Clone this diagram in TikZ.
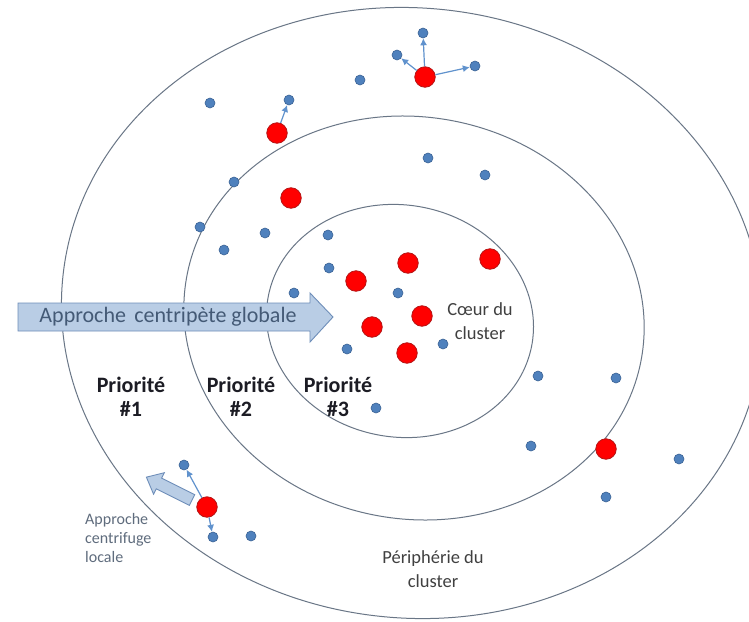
\documentclass[tikz,border=0pt]{standalone}
\usepackage{fontspec}
\setmainfont{Carlito}
\usepackage{tikz}
\usetikzlibrary{arrows.meta}
\definecolor{ringgray}{RGB}{105,118,134}
\definecolor{dotblue}{RGB}{79,129,189}
\definecolor{dotblueline}{RGB}{58,98,148}
\definecolor{seedred}{RGB}{255,0,0}
\definecolor{seedline}{RGB}{180,20,20}
\definecolor{arrowfill}{RGB}{185,205,229}
\definecolor{arrowline}{RGB}{110,142,185}
\definecolor{arrowtext}{RGB}{68,90,118}
\definecolor{labelgray}{RGB}{64,64,64}
\definecolor{prioblack}{RGB}{28,28,36}
\definecolor{smallgray}{RGB}{95,108,125}
\definecolor{spreadblue}{RGB}{96,146,205}
\tikzset{
  ringline/.style={draw=ringgray,line width=1pt},
  reddot/.style={circle,fill=seedred,draw=seedline,line width=0.8pt,minimum size=20.5pt,inner sep=0pt},
  bluedot/.style={circle,fill=dotblue,draw=dotblueline,line width=0.6pt,minimum size=10pt,inner sep=0pt},
  spread/.style={draw=spreadblue,line width=1.2pt,-{Latex[length=7pt,width=7pt]}},
  blockarrow/.style={fill=arrowfill,draw=arrowline,line width=0.9pt},
  prio/.style={align=center,font=\bfseries\fontsize{22}{24}\selectfont,text=prioblack},
  zone/.style={align=center,font=\fontsize{18.5}{24}\selectfont,text=labelgray}
}
\begin{document}
\begin{tikzpicture}[x=1pt,y=-1pt]
    \useasboundingbox[fill=white] (0,0) rectangle (749,621);
    \draw[ringline,rotate around={-6:(412,313)}] (412,313) ellipse [x radius=351,y radius=305];
    \draw[ringline,rotate around={-10:(414,318)}] (414,318) ellipse [x radius=231,y radius=201];
    \draw[ringline,rotate around={-10:(400,321)}] (400,321) ellipse [x radius=134,y radius=116];
    \draw[blockarrow] (18,303)--(310,303)--(310,293)--(333,317)--(310,342)--(310,331)--(18,331)--cycle;
    \node[font=\fontsize{22}{24}\selectfont,text=arrowtext] (globale) at (168,317) {Approche\hspace{.15em} centripète globale};
    \begin{scope}[shift={(192,500)},rotate=153.4]
        \draw[blockarrow] (0,-6)--(37,-6)--(37,-12)--(51,0)--(37,12)--(37,6)--(0,6)--cycle;
    \end{scope}
    \node[reddot] (r1) at (425,77) {};
    \node[reddot] (r2) at (277,133) {};
    \node[reddot] (r3) at (291,198) {};
    \node[reddot] (r4) at (356,281) {};
    \node[reddot] (r5) at (408,263) {};
    \node[reddot] (r6) at (490,259) {};
    \node[reddot] (r7) at (372,327) {};
    \node[reddot] (r8) at (422,316) {};
    \node[reddot] (r9) at (407,353) {};
    \node[reddot] (r10) at (606,449) {};
    \node[reddot] (r11) at (207,507) {};
    \node[bluedot] (b1) at (423,33) {};
    \node[bluedot] (b2) at (397,55) {};
    \node[bluedot] (b3) at (475,66) {};
    \node[bluedot] (b4) at (360,80) {};
    \node[bluedot] (b5) at (210,103) {};
    \node[bluedot] (b6) at (289,100) {};
    \node[bluedot] (b7) at (428,158) {};
    \node[bluedot] (b8) at (485,175) {};
    \node[bluedot] (b9) at (234,182) {};
    \node[bluedot] (b10) at (200,227) {};
    \node[bluedot] (b11) at (224,250) {};
    \node[bluedot] (b12) at (265,233) {};
    \node[bluedot] (b13) at (328,235) {};
    \node[bluedot] (b14) at (329,268) {};
    \node[bluedot] (b15) at (294,293) {};
    \node[bluedot] (b16) at (398,293) {};
    \node[bluedot] (b17) at (347,349) {};
    \node[bluedot] (b18) at (443,344) {};
    \node[bluedot] (b19) at (376,408) {};
    \node[bluedot] (b20) at (538,376) {};
    \node[bluedot] (b21) at (616,378) {};
    \node[bluedot] (b22) at (531,446) {};
    \node[bluedot] (b23) at (679,459) {};
    \node[bluedot] (b24) at (606,497) {};
    \node[bluedot] (b25) at (184,465) {};
    \node[bluedot] (b26) at (213,537) {};
    \node[bluedot] (b27) at (251,536) {};
    \draw[spread] (r1)--(b1);
    \draw[spread] (r1)--(b2);
    \draw[spread] (r1)--(b3);
    \draw[spread] (r2)--(b6);
    \draw[spread] (r11)--(b25);
    \draw[spread] (r11)--(b26);
    \node[prio] (prio1) at (131,397) {Priorité\\\#1};
    \node[prio] (prio2) at (241,397) {Priorité\\\#2};
    \node[prio] (prio3) at (338,397) {Priorité\\\#3};
    \node[zone] (coeur) at (480,321) {Cœur du\\cluster};
    \node[zone] (peripherie) at (433,569) {Périphérie du\\cluster};
    \node[anchor=north west,inner sep=0pt,align=left,font=\fontsize{16}{19}\selectfont,text=smallgray] (locale) at (85,513) {Approche\\centrifuge\\locale};
\end{tikzpicture}
\end{document}
